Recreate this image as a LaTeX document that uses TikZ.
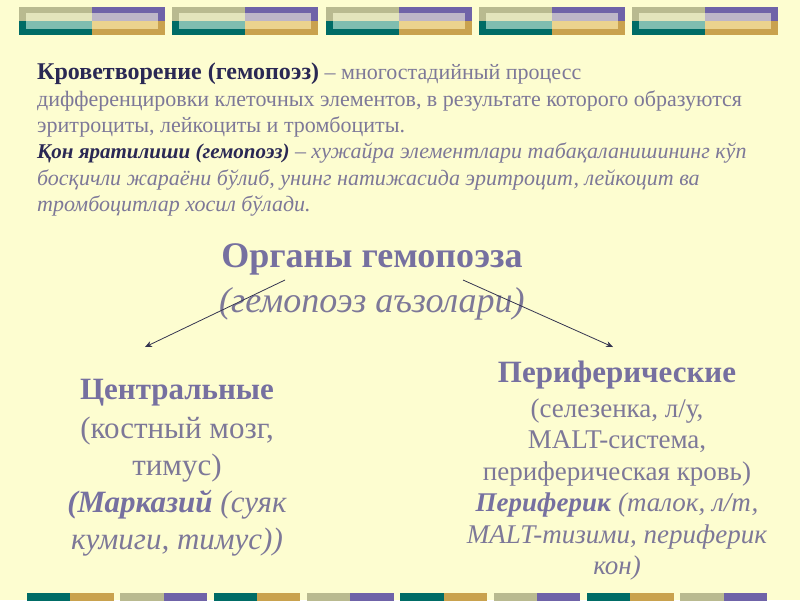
\documentclass[tikz,border=0pt]{standalone}
\usepackage{fontspec}
\setmainfont{Liberation Serif}
\usepackage{xcolor}
\usepackage{tikz}
\usetikzlibrary{arrows.meta,positioning}
\definecolor{slidebg}{RGB}{253,253,208}
\definecolor{ink}{RGB}{42,40,84}
\definecolor{headink}{RGB}{118,112,160}
\definecolor{bodyink}{RGB}{125,120,152}
\definecolor{arrowink}{RGB}{52,52,80}
\definecolor{barkhaki}{RGB}{185,186,144}
\definecolor{barkhakilt}{RGB}{227,228,188}
\definecolor{barpurple}{RGB}{111,99,168}
\definecolor{barpurplelt}{RGB}{189,182,200}
\definecolor{barteal}{RGB}{0,108,102}
\definecolor{bartealt}{RGB}{127,189,176}
\definecolor{bargold}{RGB}{201,162,78}
\definecolor{bargoldlt}{RGB}{235,211,142}
\tikzset{
  txt/.style={inner sep=0pt,text=bodyink,align=left},
  col/.style={inner sep=0pt,text=bodyink,align=center},
  flow/.style={-{Stealth[length=7pt,width=6pt]},draw=arrowink,line width=0.8pt},
}

\begin{document}
\begin{tikzpicture}[x=1pt,y=-1pt]
  \fill[slidebg] (0,0) rectangle (800,600);
  \useasboundingbox (0,0) rectangle (800,600);

  % полосы сверху
  \foreach \i in {0,...,4}{
    \pgfmathsetmacro\bx{19+153.25*\i}
    \fill[barkhaki]    (\bx,7) rectangle ++(73,14);
    \fill[barpurple]   (\bx+73,7) rectangle ++(73,14);
    \fill[barteal]     (\bx,21) rectangle ++(73,14);
    \fill[bargold]     (\bx+73,21) rectangle ++(73,14);
    \fill[barkhakilt]  (\bx+7,13) rectangle ++(66,8);
    \fill[barpurplelt] (\bx+73,13) rectangle ++(66,8);
    \fill[bartealt]    (\bx+7,21) rectangle ++(66,8);
    \fill[bargoldlt]   (\bx+73,21) rectangle ++(66,8);
  }
  % полосы снизу
  \foreach \i in {0,...,7}{
    \pgfmathsetmacro\bx{27+93.33*\i}
    \pgfmathtruncatemacro\odd{mod(\i,2)}
    \ifnum\odd=0
      \fill[barteal] (\bx,593) rectangle ++(43.3,8);
      \fill[bargold] (\bx+43.3,593) rectangle ++(43.3,8);
    \else
      \fill[barkhaki]  (\bx,593) rectangle ++(43.3,8);
      \fill[barpurple] (\bx+43.3,593) rectangle ++(43.3,8);
    \fi
  }

  \node[txt,anchor=north west,font=\fontsize{22}{26.3}\selectfont] (intro) at (37,63)
    {{\color{ink}\fontsize{24}{26.3}\selectfont\textbf{Кроветворение (гемопоэз)}} – многостадийный процесс\\
     дифференцировки клеточных элементов, в результате которого образуются\\
     эритроциты, лейкоциты и тромбоциты.\\
     {\color{ink}\fontsize{21}{26.3}\selectfont\textbf{\textit{Қон яратилиши (гемопоэз)}}} \textit{– хужайра элементлари табақаланишининг кўп}\\
     \textit{босқичли жараёни бўлиб, унинг натижасида эритроцит, лейкоцит ва}\\
     \textit{тромбоцитлар хосил бўлади.}};

  \node[col,anchor=north,font=\fontsize{36}{45}\selectfont] (organs) at (372,243)
    {{\color{headink}\textbf{Органы гемопоэза}}\\\textit{(гемопоэз аъзолари)}};

  \node[col,anchor=north,font=\fontsize{31}{37}\selectfont] (central) at (177,379)
    {{\color{headink}\textbf{Центральные}}\\[2pt]
     (костный мозг,\\тимус)\\
     {\color{headink}\textbf{\textit{(Марказий}}} \textit{(суяк}\\
     \textit{кумиги, тимус))}};

  \node[col,anchor=north,font=\fontsize{27}{31.5}\selectfont] (periph) at (617,361)
    {{\color{headink}\fontsize{31}{31.5}\selectfont\textbf{Периферические}}\\[3pt]
     (селезенка, л/у,\\MALT-система,\\периферическая кровь)\\
     {\color{headink}\textbf{\textit{Периферик}}} \textit{(талок, л/т,}\\
     \textit{MALT-тизими, периферик}\\
     \textit{кон)}};

  \coordinate (lfrom) at (285,280);
  \coordinate (lto)   at (145,347);
  \coordinate (rfrom) at (463,280);
  \coordinate (rto)   at (613,347);
  \draw[flow] (lfrom) -- (lto);
  \draw[flow] (rfrom) -- (rto);
\end{tikzpicture}
\end{document}
